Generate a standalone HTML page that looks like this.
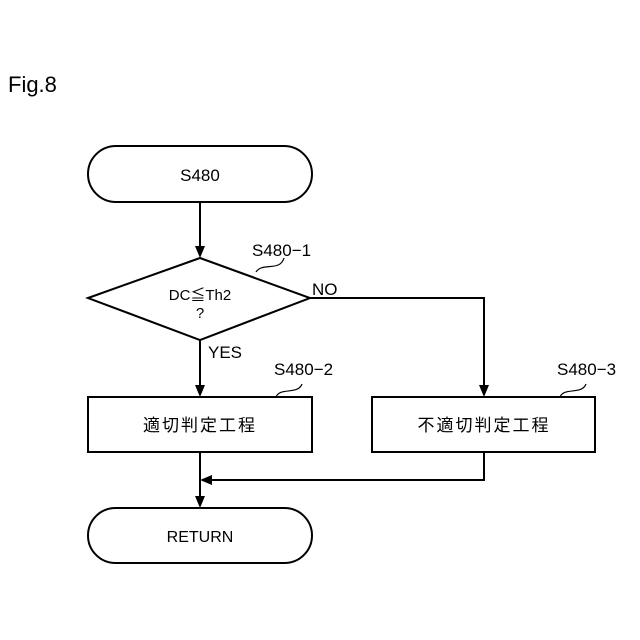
<!DOCTYPE html>
<html><head><style>body{margin:0;background:#fff}svg{display:block}text{font-family:"Liberation Sans","Noto Sans CJK JP",sans-serif;fill:#000}</style></head><body>
<svg width="640" height="640" viewBox="0 0 640 640" xmlns="http://www.w3.org/2000/svg">
<defs><marker id="a" markerWidth="10" markerHeight="12" refX="5" refY="11" orient="auto" markerUnits="userSpaceOnUse"><path d="M0,0 L10,0 L5,12 Z" fill="#000" transform="rotate(-90 5 6) translate(0 0)"/></marker></defs>
<g stroke="#000" stroke-width="2" fill="none">
<rect x="88" y="146" width="224" height="56" rx="28"/>
<polygon points="88,298 200,258 310,298 200,340"/>
<rect x="88" y="397" width="224" height="55"/>
<rect x="372" y="397" width="223" height="55"/>
<rect x="88" y="508" width="224" height="55" rx="27.5"/>
<line x1="200" y1="202" x2="200" y2="248"/>
<line x1="200" y1="340" x2="200" y2="387"/>
<polyline points="310,298 484,298 484,387"/>
<line x1="200" y1="452" x2="200" y2="498"/>
<polyline points="484,452 484,480 212,480"/>
<path d="M256,272 C262,262 280,272 284,258" stroke-width="1.2"/>
<path d="M276,397 C280,387 298,395 302,384" stroke-width="1.2"/>
<path d="M560,397 C564,387 582,395 586,384" stroke-width="1.2"/>
</g>
<g fill="#000">
<polygon points="195,246 205,246 200,258"/>
<polygon points="195,385 205,385 200,397"/>
<polygon points="479,385 489,385 484,397"/>
<polygon points="195,496 205,496 200,508"/>
<polygon points="212,475 212,485 200,480"/>
</g>
<text x="8" y="92" font-size="22">Fig.8</text>
<text x="200" y="181" font-size="17" text-anchor="middle">S480</text>
<text x="200" y="300" font-size="15" text-anchor="middle">DC≦Th2</text>
<text x="200" y="318" font-size="15" text-anchor="middle">?</text>
<text x="252" y="256" font-size="17">S480−1</text>
<text x="312" y="295" font-size="17">NO</text>
<text x="208" y="358" font-size="17">YES</text>
<text x="274" y="375" font-size="17">S480−2</text>
<text x="557" y="375" font-size="17">S480−3</text>
<text x="200" y="431" font-size="17" text-anchor="middle" letter-spacing="2">適切判定工程</text>
<text x="484" y="431" font-size="17" text-anchor="middle" letter-spacing="2">不適切判定工程</text>
<text x="200" y="542" font-size="16" text-anchor="middle">RETURN</text>
</svg></body></html>
